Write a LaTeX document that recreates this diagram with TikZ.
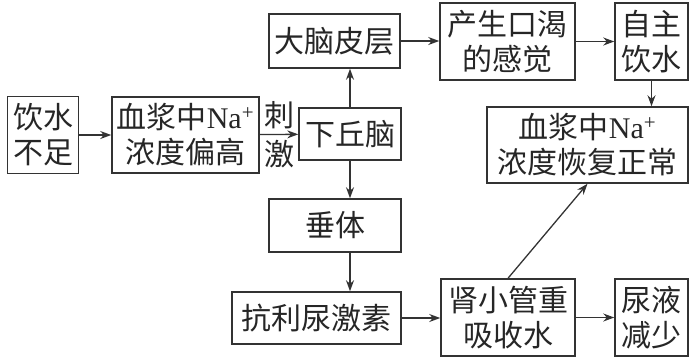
\documentclass[tikz,border=0pt]{standalone}
\usepackage{fontspec}
\newfontfamily\cjk{Noto Sans CJK SC}
\newfontfamily\latin{Liberation Serif}
\usetikzlibrary{arrows.meta}
\newcommand{\Na}{{\latin Na}\textsuperscript{\latin +}}
\tikzset{
  box/.style={draw=black!80,line width=1.5pt,inner sep=0pt,align=center,text=black!85,font=\cjk\fontsize{30}{35}\selectfont},
  link/.style={draw=black!80,line width=1.3pt,-{Stealth[length=11pt,width=8pt]}}
}
\begin{document}
\begin{tikzpicture}[x=1pt,y=-1pt]
\useasboundingbox (0,0) rectangle (696,360);
\node[box,minimum width=71,minimum height=77] (yinshui) at (43,135) {饮水\\不足};
\node[box,minimum width=147,minimum height=76] (xuejiang) at (185.5,135) {血浆中\Na\\浓度偏高};
\node[box,minimum width=102,minimum height=52] (xiaqiunao) at (350,134) {下丘脑};
\node[box,minimum width=131,minimum height=54] (danao) at (334.5,41) {大脑皮层};
\node[box,minimum width=135,minimum height=77] (kouke) at (507.5,41.5) {产生口渴\\的感觉};
\node[box,minimum width=73,minimum height=77] (zizhu) at (651.5,41.5) {自主\\饮水};
\node[box,minimum width=201,minimum height=76] (huifu) at (587.5,145) {血浆中\Na\\浓度恢复正常};
\node[box,minimum width=132,minimum height=53] (chuiti) at (335,225.5) {垂体};
\node[box,minimum width=169,minimum height=52] (kangli) at (316.5,318) {抗利尿激素};
\node[box,minimum width=134,minimum height=77] (shenxiao) at (508,317.5) {肾小管重\\吸收水};
\node[box,minimum width=73,minimum height=77] (niaoye) at (651.5,317.5) {尿液\\减少};
\draw[link] (yinshui) -- (xuejiang);
\draw[link] (xuejiang) -- (xiaqiunao)
  node[midway,above,inner sep=5pt,font=\cjk\fontsize{30}{35}\selectfont,text=black!85] (ci) {刺}
  node[midway,below,inner sep=5pt,font=\cjk\fontsize{30}{35}\selectfont,text=black!85] (ji) {激};
\draw[link] (xiaqiunao.north) -- (xiaqiunao.north |- danao.south);
\draw[link] (xiaqiunao.south) -- (xiaqiunao.south |- chuiti.north);
\draw[link] (chuiti.south -| xiaqiunao.south) -- (kangli.north -| xiaqiunao.south);
\draw[link] (danao) -- (danao.east -| kouke.west);
\draw[link] (kouke) -- (zizhu);
\draw[link] (zizhu) -- (zizhu.south |- huifu.north);
\draw[link] (kangli) -- (kangli.east -| shenxiao.west);
\draw[link] (shenxiao) -- (niaoye);
\draw[link] (shenxiao.north) -- (huifu.south);
\end{tikzpicture}
\end{document}
